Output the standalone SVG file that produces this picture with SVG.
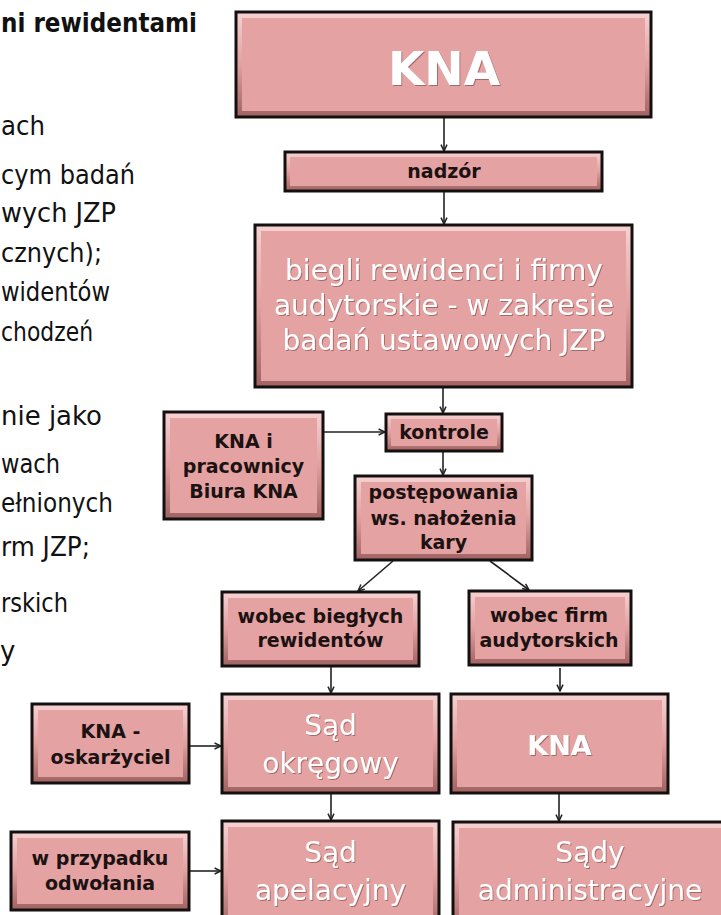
<svg xmlns="http://www.w3.org/2000/svg" width="721" height="915" viewBox="0 0 721 915">
<defs>
<linearGradient id="bev" x1="0" y1="0" x2="0" y2="1">
<stop offset="0" stop-color="#F6D2D2"/>
<stop offset="0.5" stop-color="#E2A0A0"/>
<stop offset="1" stop-color="#A06262"/>
</linearGradient>
<filter id="ts" x="-10%" y="-20%" width="130%" height="150%">
<feDropShadow dx="1" dy="1" stdDeviation="0.7" flood-color="#6e3a3a" flood-opacity="0.55"/>
</filter>
<marker id="ah" viewBox="0 0 8 8" refX="7.4" refY="4" markerWidth="8" markerHeight="8" orient="auto" markerUnits="userSpaceOnUse">
<path d="M1,1 L7.4,4 L1,7" fill="none" stroke="#222" stroke-width="1.5"/>
</marker>
<style>
.bx{fill:url(#bev);stroke:#141010;stroke-width:3}
.fc{fill:#E4A2A2}
.lb{font-family:"DejaVu Sans","Liberation Sans",sans-serif;font-weight:bold;font-size:19px;fill:#1c1212;text-anchor:middle}
.wt{font-family:"DejaVu Sans","Liberation Sans",sans-serif;font-size:28px;fill:#ffffff;text-anchor:middle;filter:url(#ts)}
.wb{font-family:"DejaVu Sans","Liberation Sans",sans-serif;font-weight:bold;fill:#ffffff;text-anchor:middle;filter:url(#ts)}
.cn{stroke:#222;stroke-width:1.6;fill:none;marker-end:url(#ah)}
.bd{font-family:"DejaVu Sans","Liberation Sans",sans-serif;font-size:26px;fill:#111}
</style>
</defs>
<rect width="721" height="915" fill="#ffffff"/>

<g id="bodytext">
<text class="bd" x="1" y="32" font-weight="bold" font-size="25" textLength="196" lengthAdjust="spacingAndGlyphs">ni rewidentami</text>
<text class="bd" x="1" y="135" textLength="44" lengthAdjust="spacingAndGlyphs">ach</text>
<text class="bd" x="1" y="184" textLength="134" lengthAdjust="spacingAndGlyphs">cym badań</text>
<text class="bd" x="1" y="222" textLength="115" lengthAdjust="spacingAndGlyphs">wych JZP</text>
<text class="bd" x="1" y="262" textLength="101" lengthAdjust="spacingAndGlyphs">cznych);</text>
<text class="bd" x="1" y="301" textLength="109" lengthAdjust="spacingAndGlyphs">widentów</text>
<text class="bd" x="1" y="341" textLength="92" lengthAdjust="spacingAndGlyphs">chodzeń</text>
<text class="bd" x="1" y="425" textLength="101" lengthAdjust="spacingAndGlyphs">nie jako</text>
<text class="bd" x="1" y="473" textLength="59" lengthAdjust="spacingAndGlyphs">wach</text>
<text class="bd" x="1" y="512" textLength="112" lengthAdjust="spacingAndGlyphs">ełnionych</text>
<text class="bd" x="1" y="556" textLength="89" lengthAdjust="spacingAndGlyphs">rm JZP;</text>
<text class="bd" x="1" y="612" textLength="67" lengthAdjust="spacingAndGlyphs">rskich</text>
<text class="bd" x="0" y="660">y</text>
</g>

<g id="connectors">
<line class="cn" x1="444" y1="118" x2="444" y2="151"/>
<line class="cn" x1="444" y1="192" x2="444" y2="224"/>
<line class="cn" x1="443" y1="388" x2="443" y2="413"/>
<line class="cn" x1="324" y1="432" x2="385" y2="432"/>
<line class="cn" x1="443" y1="452" x2="443" y2="475"/>
<line class="cn" x1="393" y1="561" x2="358" y2="591"/>
<line class="cn" x1="490" y1="561" x2="529" y2="590"/>
<line class="cn" x1="331" y1="667" x2="331" y2="693"/>
<line class="cn" x1="560" y1="668" x2="560" y2="691"/>
<line class="cn" x1="190" y1="746" x2="221" y2="746"/>
<line class="cn" x1="331" y1="794" x2="331" y2="820"/>
<line class="cn" x1="559" y1="794" x2="559" y2="821"/>
<line class="cn" x1="190" y1="871" x2="221" y2="871"/>
</g>

<g id="n_kna_top">
<rect class="bx" x="236" y="12" width="415" height="105"/>
<rect class="fc" x="242" y="18" width="403" height="93"/>
<text class="wb" x="444" y="85" font-size="47">KNA</text>
</g>

<g id="n_nadzor">
<rect class="bx" x="285" y="152" width="317" height="39"/>
<rect class="fc" x="290" y="157" width="307" height="29"/>
<text class="lb" x="444" y="178">nadzór</text>
</g>

<g id="n_biegli">
<rect class="bx" x="255" y="225" width="377" height="162"/>
<rect class="fc" x="261" y="231" width="365" height="150"/>
<text class="wt" x="444" y="280" font-size="27">biegli rewidenci i firmy</text>
<text class="wt" x="444" y="315" font-size="27">audytorskie - w zakresie</text>
<text class="wt" x="444" y="350" font-size="27">badań ustawowych JZP</text>
</g>

<g id="n_kna_prac">
<rect class="bx" x="164" y="412" width="159" height="107"/>
<rect class="fc" x="170" y="418" width="147" height="95"/>
<text class="lb" x="243.5" y="448">KNA i</text>
<text class="lb" x="243.5" y="473">pracownicy</text>
<text class="lb" x="243.5" y="498">Biura KNA</text>
</g>

<g id="n_kontrole">
<rect class="bx" x="386" y="414" width="116" height="37"/>
<rect class="fc" x="391" y="419" width="106" height="27"/>
<text class="lb" x="444" y="439">kontrole</text>
</g>

<g id="n_postepowania">
<rect class="bx" x="355" y="476" width="177" height="84"/>
<rect class="fc" x="361" y="482" width="165" height="72"/>
<text class="lb" x="443.5" y="499">postępowania</text>
<text class="lb" x="443.5" y="525">ws. nałożenia</text>
<text class="lb" x="443.5" y="549">kary</text>
</g>

<g id="n_wobec_bieglych">
<rect class="bx" x="222" y="592" width="197" height="74"/>
<rect class="fc" x="228" y="598" width="185" height="62"/>
<text class="lb" x="320.5" y="623">wobec biegłych</text>
<text class="lb" x="320.5" y="647">rewidentów</text>
</g>

<g id="n_wobec_firm">
<rect class="bx" x="469" y="591" width="162" height="74"/>
<rect class="fc" x="475" y="597" width="150" height="62"/>
<text class="lb" x="549" y="622">wobec firm</text>
<text class="lb" x="549" y="647">audytorskich</text>
</g>

<g id="n_kna_oskarzyciel">
<rect class="bx" x="32" y="704" width="157" height="79"/>
<rect class="fc" x="38" y="710" width="145" height="67"/>
<text class="lb" x="110.5" y="738">KNA -</text>
<text class="lb" x="110.5" y="764">oskarżyciel</text>
</g>

<g id="n_sad_okregowy">
<rect class="bx" x="222" y="694" width="217" height="99"/>
<rect class="fc" x="228" y="700" width="205" height="87"/>
<text class="wt" x="330.5" y="735" font-size="29">Sąd</text>
<text class="wt" x="330.5" y="773" font-size="29">okręgowy</text>
</g>

<g id="n_kna_right">
<rect class="bx" x="451" y="694" width="217" height="99"/>
<rect class="fc" x="457" y="700" width="205" height="87"/>
<text class="wb" x="559.5" y="755" font-size="27">KNA</text>
</g>

<g id="n_w_przypadku">
<rect class="bx" x="11" y="832" width="178" height="78"/>
<rect class="fc" x="17" y="838" width="166" height="66"/>
<text class="lb" x="100" y="865">w przypadku</text>
<text class="lb" x="100" y="890">odwołania</text>
</g>

<g id="n_sad_apelacyjny">
<rect class="bx" x="222" y="821" width="217" height="110"/>
<rect class="fc" x="228" y="827" width="205" height="98"/>
<text class="wt" x="330.5" y="862" font-size="29">Sąd</text>
<text class="wt" x="330.5" y="900" font-size="29">apelacyjny</text>
</g>

<g id="n_sady_administracyjne">
<rect class="bx" x="453" y="822" width="280" height="110"/>
<rect class="fc" x="459" y="828" width="268" height="98"/>
<text class="wt" x="590" y="862" font-size="29">Sądy</text>
<text class="wt" x="590" y="900" font-size="29">administracyjne</text>
</g>
</svg>
